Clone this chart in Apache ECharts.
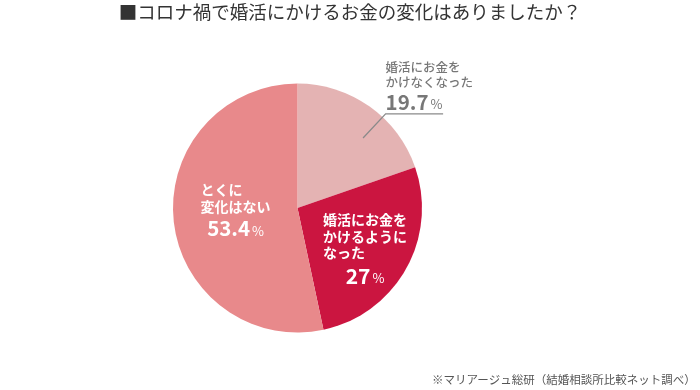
<!DOCTYPE html>
<html>
<head>
<meta charset="utf-8">
<script src="https://cdn.jsdelivr.net/npm/echarts@6/dist/echarts.min.js"></script>
<style>
  html, body { margin: 0; padding: 0; background: #fff; }
  #chart { width: 700px; height: 390px; }
</style>
</head>
<body>
<div id="chart"></div>
<script>
// ---- data ----
const titleText = '■コロナ禍で婚活にかけるお金の変化はありましたか？';
const sourceText = '※マリアージュ総研（結婚相談所比較ネット調べ）';
const categories = ['婚活にお金をかけなくなった', '婚活にお金をかけるようになった', 'とくに変化はない'];
const values = [19.7, 27, 53.4];
const labelLines = [
  ['婚活にお金を', 'かけなくなった'],
  ['婚活にお金を', 'かけるように', 'なった'],
  ['とくに', '変化はない']
];

// ---- styles ----
const colors = ['#e4b3b3', '#cb1540', '#e8898b'];
const FONT = 'Noto Sans CJK JP';
const CX = 297.5, CY = 208, R = 124.5;
const insideOffsets = { 1: [10.7, 10.8], 2: [3, -3.75] };

function labelText(i) {
  const lines = labelLines[i].map(s => '{t|' + s + '}');
  lines.push('{n|' + values[i] + '}{p|%}');
  return lines.join('\n');
}

const insideRich = [
  null,
  {
    t: { fontFamily: FONT, fontSize: 14, fontWeight: 'bold', color: '#fff', lineHeight: 16.5, align: 'left' },
    n: { fontFamily: FONT, fontSize: 21, fontWeight: 'bold', color: '#fff', lineHeight: 29, align: 'center' },
    p: { fontFamily: FONT, fontSize: 13, color: '#fff', lineHeight: 29, align: 'center', padding: [5, 0, 0, 2] }
  },
  {
    t: { fontFamily: FONT, fontSize: 14, fontWeight: 'bold', color: '#fff', lineHeight: 17, align: 'left' },
    n: { fontFamily: FONT, fontSize: 20.5, fontWeight: 'bold', color: '#fff', lineHeight: 26, align: 'center' },
    p: { fontFamily: FONT, fontSize: 13, color: '#fff', lineHeight: 26, align: 'center', padding: [5, 0, 0, 2] }
  }
];

const outerRich = {
  t: { fontFamily: FONT, fontSize: 12.5, fontWeight: 500, color: '#777', lineHeight: 15, align: 'left' },
  n: { fontFamily: FONT, fontSize: 20.5, fontWeight: 'bold', color: '#777', lineHeight: 24, align: 'left' },
  p: { fontFamily: FONT, fontSize: 13, color: '#777', lineHeight: 24, align: 'left', padding: [5, 0, 0, 2] }
};

const mainData = categories.map((name, i) => ({
  name: name,
  value: values[i],
  itemStyle: { color: colors[i] },
  label: i === 0 ? { show: false } : {
    show: true,
    position: 'inside',
    formatter: labelText(i),
    rich: insideRich[i]
  }
}));

const leaderData = categories.map((name, i) => ({
  name: name,
  value: values[i],
  label: i === 0 ? {
    show: true,
    position: 'outside',
    formatter: labelText(i),
    rich: outerRich,
    padding: [0, 0, 54, 0],
    distanceToLabelLine: -57.5
  } : { show: false },
  labelLine: { show: i === 0 }
}));

const chart = echarts.init(document.getElementById('chart'), null, { renderer: 'canvas' });
chart.setOption({
  animation: false,
  backgroundColor: '#ffffff',
  textStyle: { fontFamily: FONT },
  title: [
    {
      text: titleText,
      left: 'center',
      top: 3,
      padding: 0,
      textStyle: { fontFamily: FONT, fontSize: 18.5, fontWeight: 'normal', color: '#333' }
    },
    {
      text: sourceText,
      left: 432,
      top: 374,
      padding: 0,
      textStyle: { fontFamily: FONT, fontSize: 11.5, fontWeight: 'normal', color: '#555' }
    }
  ],
  series: [
    {
      type: 'pie',
      z: 2,
      center: [CX, CY],
      radius: R,
      startAngle: 90,
      clockwise: true,
      avoidLabelOverlap: false,
      silent: true,
      emphasis: { disabled: true },
      itemStyle: { borderWidth: 0 },
      labelLine: { show: false },
      label: { show: true, position: 'inside' },
      labelLayout: function (params) {
        const o = insideOffsets[params.dataIndex];
        return o ? { dx: o[0], dy: o[1] } : {};
      },
      data: mainData
    },
    {
      type: 'pie',
      z: 6,
      zlevel: 1,
      center: [CX, CY],
      radius: 95.9,
      startAngle: 82.3,
      clockwise: true,
      avoidLabelOverlap: false,
      silent: true,
      emphasis: { disabled: true },
      itemStyle: { color: 'rgba(0,0,0,0)', borderWidth: 0 },
      labelLine: {
        show: true,
        length: 33,
        length2: 57.5,
        smooth: false,
        lineStyle: { color: '#8a8a8a', width: 1.3 }
      },
      data: leaderData
    }
  ]
});
</script>
</body>
</html>
